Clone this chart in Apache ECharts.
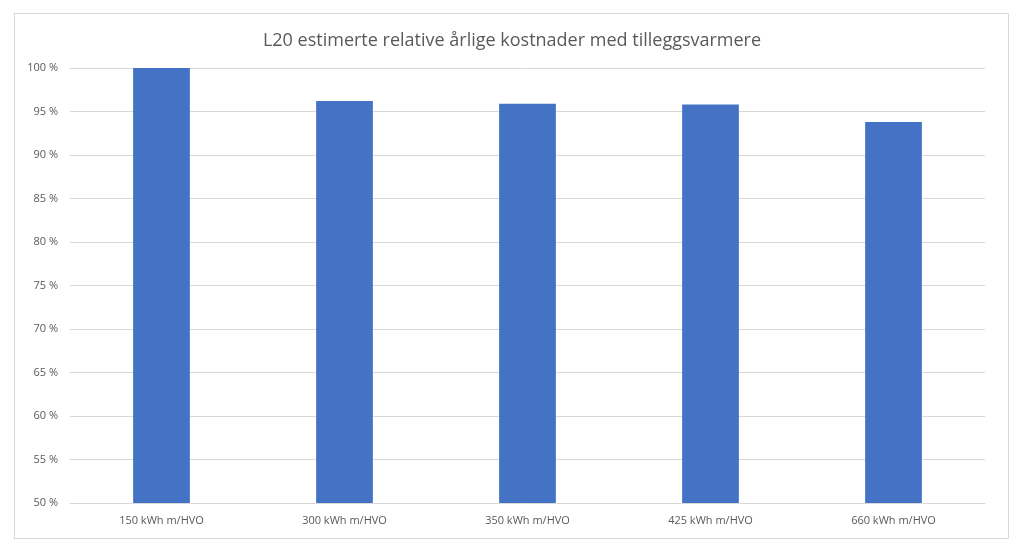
<!DOCTYPE html>
<html>
<head>
<meta charset="utf-8">
<script src="https://cdn.jsdelivr.net/npm/echarts@6/dist/echarts.min.js"></script>
<style>
  html, body { margin: 0; padding: 0; background: #fff; }
  #frame {
    position: absolute; left: 14px; top: 13px; width: 995px; height: 526px;
    border: 1px solid #d9d9d9; box-sizing: border-box;
  }
  #chart { position: absolute; left: 0; top: 0; width: 1024px; height: 552px; }
</style>
</head>
<body>
<div id="frame"></div>
<div id="chart"></div>
<script>
const categories = ['150 kWh m/HVO', '300 kWh m/HVO', '350 kWh m/HVO', '425 kWh m/HVO', '660 kWh m/HVO']
const costValues = [100, 96.2, 95.9, 95.8, 93.8]

const chart = echarts.init(document.getElementById('chart'))
const font = 'Open Sans, Noto Sans, sans-serif'
chart.setOption({
  backgroundColor: 'transparent',
  animation: false,
  title: {
    text: 'L20 estimerte relative årlige kostnader med tilleggsvarmere',
    left: 'center',
    top: 27,
    textStyle: { fontFamily: font, fontWeight: 'normal', fontSize: 18, color: '#595959' }
  },
  grid: { left: 70, right: 39, top: 68, bottom: 49 },
  xAxis: {
    type: 'category',
    data: categories,
    axisTick: { show: false },
    axisLine: { lineStyle: { color: '#d9d9d9' } },
    axisLabel: { color: '#595959', fontFamily: font, fontSize: 11, margin: 12 }
  },
  yAxis: {
    type: 'value',
    min: 50,
    max: 100,
    interval: 5,
    axisLine: { show: false },
    axisTick: { show: false },
    axisLabel: {
      color: '#595959', fontFamily: font, fontSize: 11, margin: 12,
      formatter: v => v + ' %'
    },
    splitLine: { lineStyle: { color: '#d9d9d9' } }
  },
  series: [{
    type: 'bar',
    data: costValues,
    barWidth: '31%',
    itemStyle: { color: '#4472c4' }
  }]
})
</script>
</body>
</html>
